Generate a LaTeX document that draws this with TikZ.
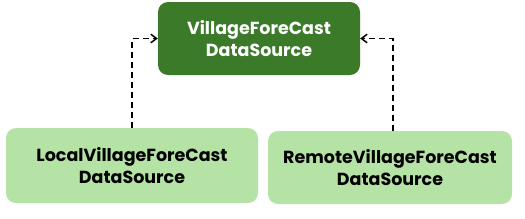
\documentclass[tikz,border=0pt]{standalone}
\usepackage{fontspec}
\setmainfont{Poppins}
\usetikzlibrary{arrows.meta,positioning}

\definecolor{darkleaf}{HTML}{3A7A28}
\definecolor{lightleaf}{HTML}{B5E3A6}

\begin{document}
\begin{tikzpicture}[
    x=1pt, y=-1pt,
    iface/.style={rounded corners=10pt, fill=darkleaf, text=white,
                  minimum width=202pt, minimum height=73pt,
                  font=\fontsize{17.5}{22}\selectfont\bfseries, align=center},
    impl/.style={rounded corners=10pt, fill=lightleaf, text=black,
                 minimum height=75pt,
                 font=\fontsize{17.5}{22}\selectfont\bfseries, align=center},
    dep/.style={-{Straight Barb[length=2mm,width=3mm]}, line width=1.5pt,
                dash pattern=on 6pt off 4pt}
]
    \useasboundingbox (0,0) rectangle (525,218);
    \node[iface] (ds) at (259,38.5) {VillageForeCast\\DataSource};
    \node[impl, minimum width=252pt] (local) at (132,165.5) {LocalVillageForeCast\\DataSource};
    \node[impl, minimum width=244pt, minimum height=73pt] (remote) at (390,167.5) {RemoteVillageForeCast\\DataSource};

    \draw[dep] (local.north) |- (ds.west);
    \draw[dep] ([xshift=3pt]remote.north) |- (ds.east);
\end{tikzpicture}
\end{document}
